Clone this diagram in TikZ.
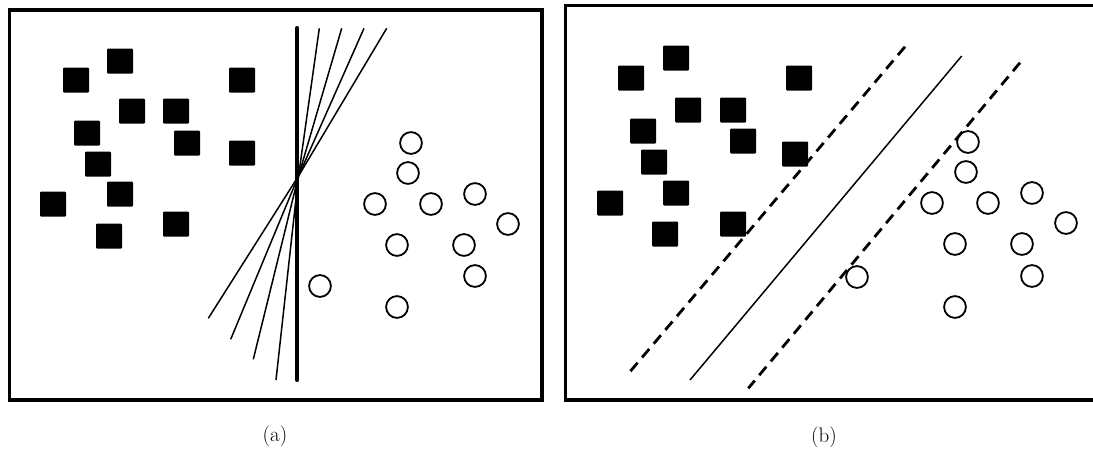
\documentclass[tikz,border=0pt]{standalone}
\usepackage{fontspec}
\begin{document}
\begin{tikzpicture}[x=1pt,y=-1pt,
  sq/.style={fill=black,draw=none,minimum width=26pt,minimum height=25pt,inner sep=0pt,rounded corners=1pt},
  circ/.style={circle,draw=black,line width=1.8pt,minimum size=21.8pt,inner sep=0pt},
  frame/.style={line width=3.8pt},
  thinline/.style={line width=1.5pt,line join=round},
  thickline/.style={line width=4pt,line cap=round},
  dsh/.style={line width=2.8pt,dash pattern=on 11pt off 7pt},
  lbl/.style={font=\fontsize{21}{25}\selectfont,inner sep=0pt}]
\useasboundingbox (0,0) rectangle (1093,453);
\clip (0,0) rectangle (1093,453);
% frames
\draw[frame] (9.5,10) rectangle (542,400);
\draw[frame] (565.5,5.5) rectangle (1098,400);
% panel (a) squares
\foreach \x/\y [count=\i] in {76/80,120/61,242/80,132/111,176/111,87/133,187/143,242/153,98/164,120/194,53/204,176/224,109/236}
  \node[sq] (as\i) at (\x,\y) {};
% panel (a) circles
\foreach \x/\y [count=\i] in {411/143,408/173,375/204,431/204,475/194,508/224,397/245,464/245,475/276,320/286,397/307}
  \node[circ] (ac\i) at (\x,\y) {};
% panel (a) separating lines
\coordinate (vt) at (297.3,28);
\coordinate (vb) at (297.3,380);
\coordinate (pv) at (298.5,176);
\draw[thickline] (vt) -- (vb);
\coordinate (t1) at (319.3,28.3); \coordinate (b1) at (276,380);
\coordinate (t2) at (341.7,28.3); \coordinate (b2) at (253.3,359.3);
\coordinate (t3) at (364,28.3);   \coordinate (b3) at (230.7,339.3);
\coordinate (t4) at (386.7,28.3); \coordinate (b4) at (208.3,318.3);
\foreach \i in {1,2,3,4}
  \draw[thinline] (t\i) -- (pv) -- (b\i);
% panel (b) squares
\foreach \x/\y [count=\i] in {631/78,676/58,799/78,688/110,733/110,643/131,743/141,795/154,654/162,676/193,610/203,733/224,665/234}
  \node[sq] (bs\i) at (\x,\y) {};
% panel (b) circles
\foreach \x/\y [count=\i] in {968/142,966/172,932/203,988/203,1032/193,1066/223,955/244,1022/244,1032/276,857/277,955/307}
  \node[circ] (bc\i) at (\x,\y) {};
% panel (b) margin lines
\coordinate (d1t) at (905,46.7);  \coordinate (d1b) at (630,371.7);
\coordinate (mt) at (961.7,56);   \coordinate (mb) at (690,380);
\coordinate (d2t) at (1020,62.7); \coordinate (d2b) at (748.3,388.3);
\draw[dsh] (d1t) -- (d1b);
\draw[thinline] (mt) -- (mb);
\draw[dsh] (d2t) -- (d2b);
% labels
\node[lbl] (la) at (275,436.5) {(a)};
\node[lbl] (lb) at (824,437.5) {(b)};
\end{tikzpicture}
\end{document}
